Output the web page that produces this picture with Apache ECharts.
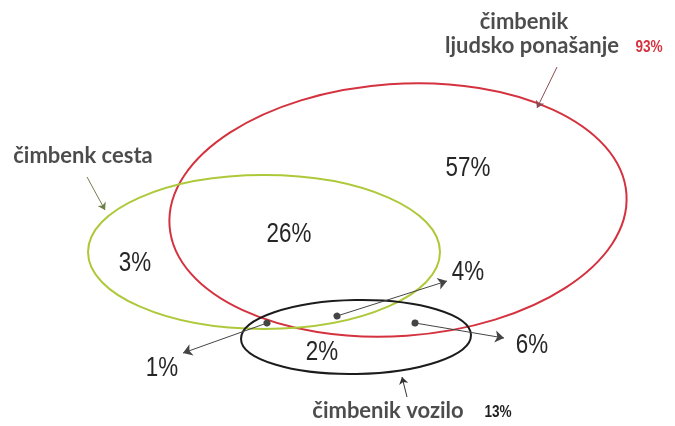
<!DOCTYPE html>
<html>
<head>
<meta charset="utf-8">
<script src="https://cdn.jsdelivr.net/npm/echarts@6/dist/echarts.min.js"></script>
<style>
  html, body { margin: 0; padding: 0; background: #fff; }
  #chart { width: 675px; height: 426px; }
</style>
</head>
<body>
<div id="chart"></div>
<script>
// ellipses (factor sets), in plot units
const setNames = ['ljudsko ponašanje', 'cesta', 'vozilo']
const setCx = [398, 264, 356]
const setCy = [210, 252, 337]
const setRx = [229, 176, 115]
const setRy = [126, 77, 37]
const setTilt = [4, 0, 1]
const setColors = ['#d4323f', '#adc93a', '#1c1c1c']

// region percentages
const pctLabels = ['57%', '26%', '3%', '4%', '2%', '1%', '6%']
const pctX = [468, 289, 135, 468, 322, 162, 532]
const pctY = [168, 234, 263, 272, 352, 368, 345]

// set titles
const titleLabels = ['čimbenik', 'ljudsko ponašanje', 'čimbenk cesta', 'čimbenik vozilo']
const titleX = [524, 532, 83, 388]
const titleY = [22, 46, 156, 411]
const totalLabels = ['93%', '13%']
const totalX = [649, 498]
const totalY = [47, 412]

// pointer arrows: from dot -> label
const dotArrows = [
  [[337, 316], [447, 281]],
  [[267, 323], [183, 353]],
  [[415, 323], [504, 338]]
]
const plainArrows = [
  [[557, 67], [537, 108]],
  [[87, 177], [105, 210]],
  [[407, 397], [402, 377]]
]
const plainArrowColors = ['#8c4a55', '#6f7f4a', '#333']

const chart = echarts.init(document.getElementById('chart'))

const numFont = '"Liberation Sans", Arial, sans-serif'
const titleFont = 'Lato, "Open Sans", sans-serif'

// narrow-looking text drawn at a data point
const narrowText = (texts, colors, size, weight) => (params, api) => {
  const c = api.coord([api.value(0), api.value(1)])
  return {
    type: 'text',
    x: c[0],
    y: c[1],
    scaleX: 0.8,
    style: {
      text: texts[params.dataIndex],
      fill: colors[params.dataIndex] || colors[0],
      font: weight + ' ' + size + 'px ' + numFont,
      align: 'center',
      verticalAlign: 'middle'
    }
  }
}

chart.setOption({
  animation: false,
  grid: { left: 0, right: 0, top: 0, bottom: 0 },
  xAxis: { type: 'value', min: 0, max: 675, show: false },
  yAxis: { type: 'value', min: 0, max: 426, inverse: true, show: false },
  series: [
    {
      type: 'custom',
      name: 'sets',
      data: setNames.map((n, i) => [setCx[i], setCy[i], setRx[i], setRy[i], setTilt[i]]),
      renderItem: (params, api) => {
        const c = api.coord([api.value(0), api.value(1)])
        const s = api.size([api.value(2), api.value(3)])
        return {
          type: 'ellipse',
          x: c[0],
          y: c[1],
          rotation: api.value(4) * Math.PI / 180,
          shape: { cx: 0, cy: 0, rx: Math.abs(s[0]), ry: Math.abs(s[1]) },
          style: { fill: 'none', stroke: setColors[params.dataIndex], lineWidth: 2 }
        }
      },
      z: 2
    },
    {
      type: 'lines',
      coordinateSystem: 'cartesian2d',
      data: dotArrows.map(c => ({ coords: c })),
      symbol: ['circle', 'arrow'],
      symbolSize: [7, 9],
      lineStyle: { color: '#444', width: 1, opacity: 1 },
      z: 3
    },
    {
      type: 'lines',
      coordinateSystem: 'cartesian2d',
      data: plainArrows.map((c, i) => ({ coords: c, lineStyle: { color: plainArrowColors[i] } })),
      symbol: ['none', 'arrow'],
      symbolSize: 7,
      lineStyle: { width: 1, opacity: 1 },
      z: 3
    },
    {
      type: 'custom',
      name: 'regions',
      data: pctLabels.map((t, i) => [pctX[i], pctY[i]]),
      renderItem: narrowText(pctLabels, ['#262626'], 28, 'normal'),
      z: 4
    },
    {
      type: 'scatter',
      symbolSize: 0,
      data: titleLabels.map((t, i) => ({ name: t, value: [titleX[i], titleY[i]] })),
      label: {
        show: true, position: 'inside', formatter: '{b}',
        color: '#1f1f1f', fontFamily: titleFont, fontWeight: 'bold', fontSize: 22
      },
      z: 4
    },
    {
      type: 'custom',
      name: 'totals',
      data: totalLabels.map((t, i) => [totalX[i], totalY[i]]),
      renderItem: narrowText(totalLabels, ['#d4323f', '#1f1f1f'], 17, 'bold'),
      z: 4
    }
  ]
})
</script>
</body>
</html>
